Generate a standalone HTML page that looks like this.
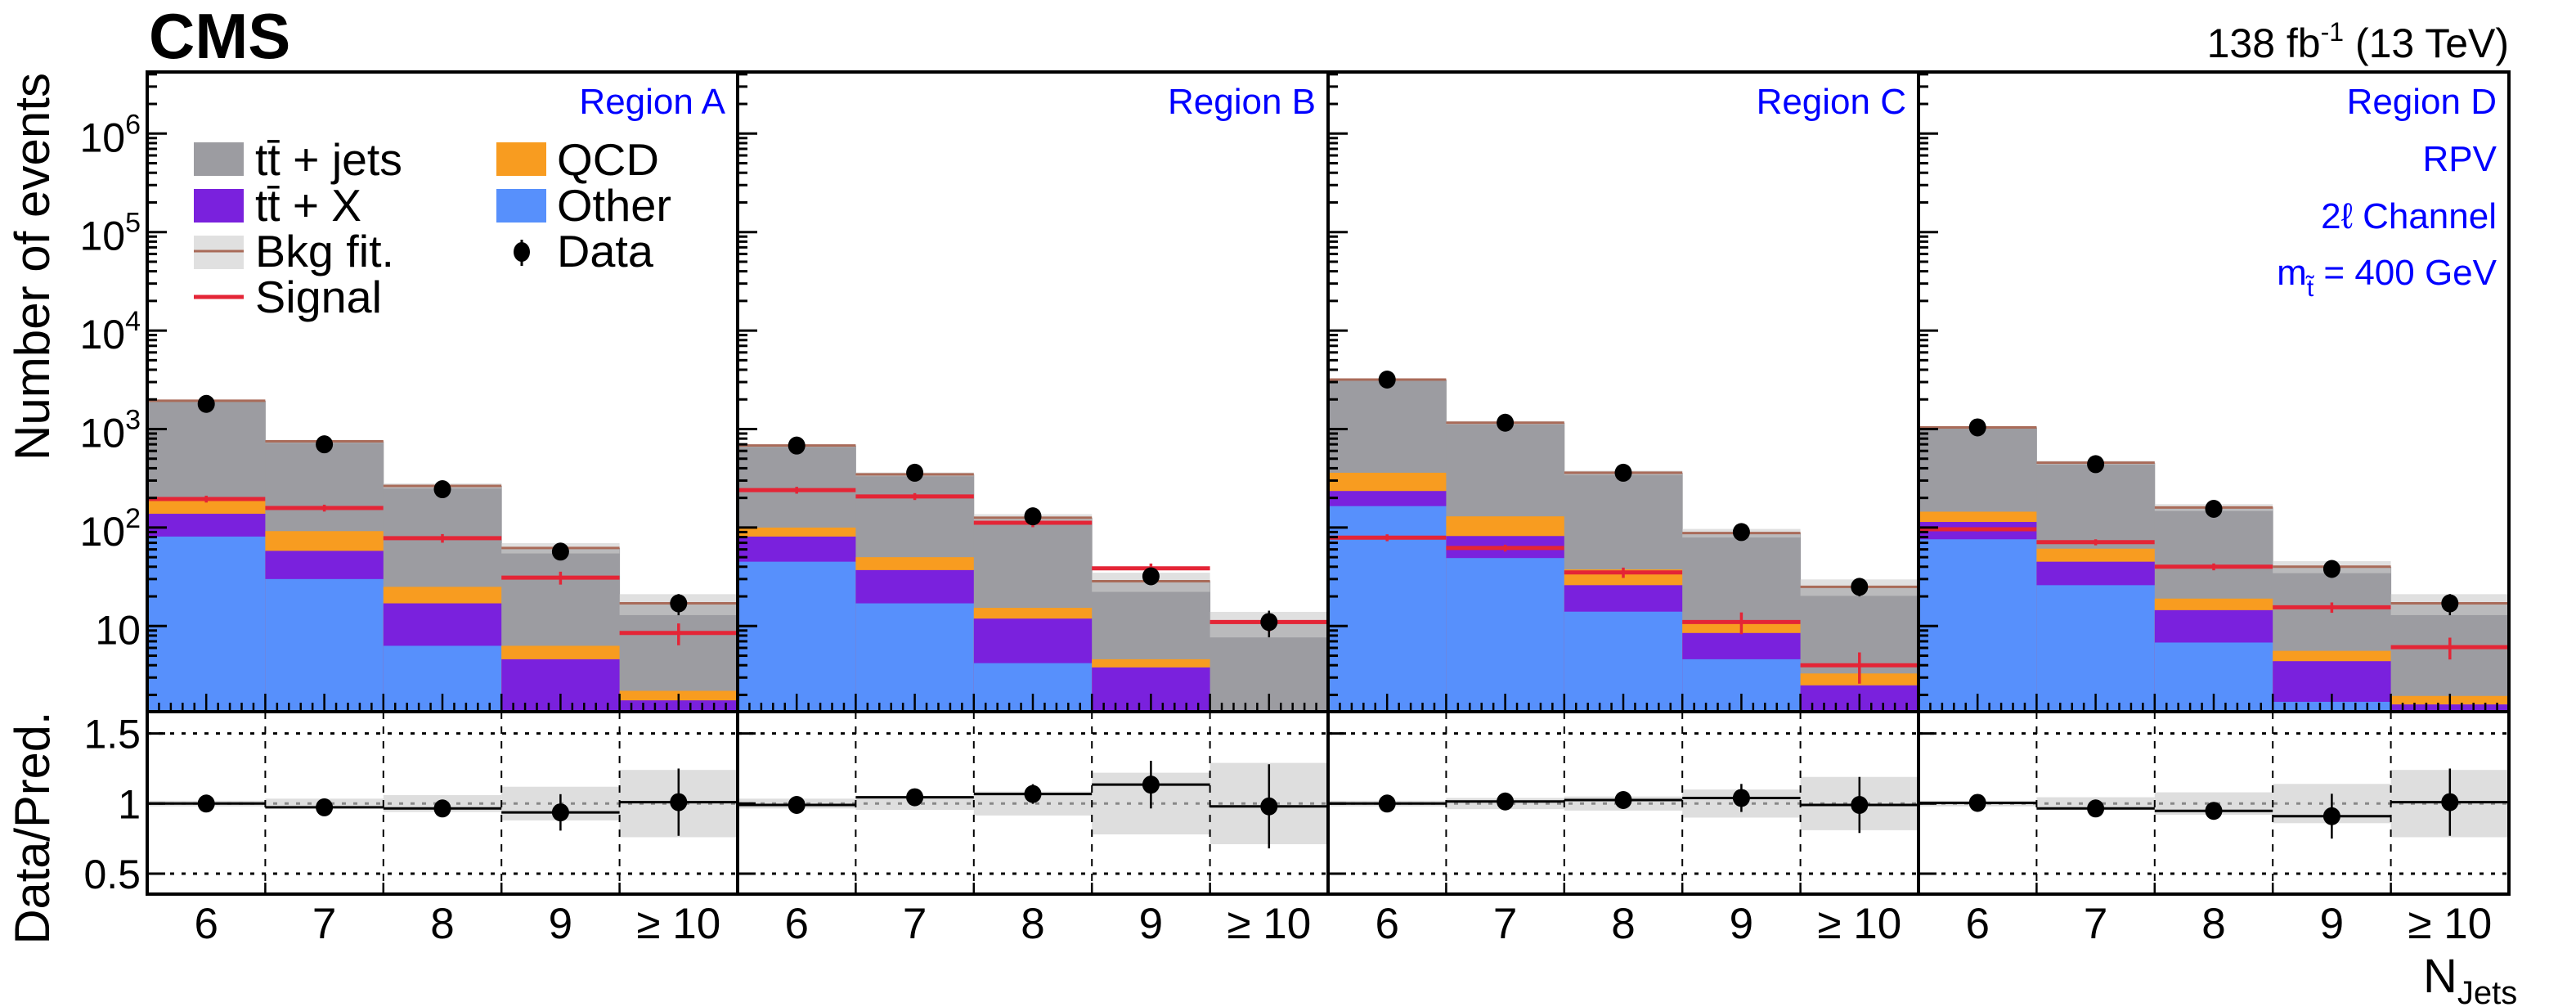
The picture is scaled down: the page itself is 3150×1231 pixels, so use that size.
<!DOCTYPE html>
<html><head><meta charset="utf-8"><style>
html,body{margin:0;padding:0;background:#fff;}
svg{display:block;font-family:"Liberation Sans",Arial,sans-serif;}
</style></head><body>
<svg id="chart" width="3150" height="1231" viewBox="0 0 3150 1231" xmlns="http://www.w3.org/2000/svg">
<g id="marks"></g>
<g id="frames"></g>
<text x="182" y="71" font-size="78" font-weight="bold">CMS</text>
<text x="3068" y="70" font-size="50" text-anchor="end">138 fb<tspan dy="-20" font-size="32">-1</tspan><tspan dy="20"> (13 TeV)</tspan></text>
<text transform="translate(60,326) rotate(-90)" font-size="60" text-anchor="middle" textLength="474" lengthAdjust="spacingAndGlyphs">Number of events</text>
<text transform="translate(60,1012) rotate(-90)" font-size="60" text-anchor="middle" textLength="285" lengthAdjust="spacingAndGlyphs">Data/Pred.</text>
<text x="2963" y="1213" font-size="58">N<tspan dy="14" font-size="40">Jets</tspan></text>
<g fill="#0000ff" font-size="44" text-anchor="end">
<text x="3053" y="209">RPV</text>
<text x="3053" y="279">2ℓ Channel</text>
<text x="3053" y="348">m<tspan dy="14" font-size="30">t̃</tspan><tspan dy="-14"> = 400 GeV</tspan></text>
</g>
<g font-size="55">
<g><rect x="237" y="174" width="61" height="41" fill="#9c9ca1"/><text x="312" y="214" textLength="180" lengthAdjust="spacingAndGlyphs">tt̄ + jets</text></g>
<g><rect x="237" y="231" width="61" height="41" fill="#7a21dd"/><text x="312" y="270" textLength="130" lengthAdjust="spacingAndGlyphs">tt̄ + X</text></g>
<g><rect x="237" y="288" width="61" height="41" fill="#e0e0e0"/><line x1="237" y1="307" x2="298" y2="307" stroke="#a96b59" stroke-width="3"/><text x="312" y="326" textLength="170" lengthAdjust="spacingAndGlyphs">Bkg fit.</text></g>
<g><line x1="237" y1="363" x2="298" y2="363" stroke="#e42536" stroke-width="5"/><text x="312" y="382" textLength="155" lengthAdjust="spacingAndGlyphs">Signal</text></g>
<g><rect x="607" y="174" width="61" height="41" fill="#f89c20"/><text x="681" y="214" textLength="125" lengthAdjust="spacingAndGlyphs">QCD</text></g>
<g><rect x="607" y="231" width="61" height="41" fill="#5790fc"/><text x="681" y="270" textLength="140" lengthAdjust="spacingAndGlyphs">Other</text></g>
<g><line x1="638" y1="293" x2="638" y2="325" stroke="#000" stroke-width="3"/><ellipse cx="638" cy="308" rx="10" ry="12" fill="#000"/><text x="681" y="326" textLength="118" lengthAdjust="spacingAndGlyphs">Data</text></g>
</g>
</svg>
<script>
// ---- data ----
const regions = ["Region A","Region B","Region C","Region D"];
const binLabels = ["6","7","8","9","\u2265 10"];
const mainTicks = [10,100,1000,10000,100000,1000000];
const mainTickLabels = ["10","10","10","10","10","10"];
const mainTickExps = ["","2","3","4","5","6"];
const ratioTicks = [0.5,1,1.5];
const ratioTickLabels = ["0.5","1","1.5"];
// stack cumulative tops: other, other+ttX, +QCD, total (tt+jets on top)
const otherA = [81,30,6.3,1.2,1.0];
const ttxTopA = [138,58,17,4.6,1.76];
const qcdTopA = [187,92,25,6.3,2.2];
const totalA = [1940,750,265,62,17];
const otherB = [45,17,4.2,1.0,0.5];
const ttxTopB = [81,37,11.9,3.8,1.0];
const qcdTopB = [100,50,15.3,4.6,1.1];
const totalB = [680,347,126,28.5,10.8];
const otherC = [165,49,14,4.6,1.0];
const ttxTopC = [235,82,26,8.5,2.5];
const qcdTopC = [360,130,37.6,10.9,3.3];
const totalC = [3180,1160,360,88,25];
const otherD = [76,26,6.8,1.7,1.0];
const ttxTopD = [114,45,14.5,4.4,1.6];
const qcdTopD = [145,61,19,5.6,1.95];
const totalD = [1040,455,160,40,17];
const signalA = [195,158,78,31,8.5];
const signalB = [240,207,112,38.5,11];
const signalC = [79,62,35,11,4];
const signalD = [96,71,40,15.5,6.1];
const sigErrA = [0.08,0.08,0.1,0.15,0.25];
const sigErrB = [0.08,0.08,0.1,0.12,0.2];
const sigErrC = [0.08,0.08,0.12,0.25,0.35];
const sigErrD = [0.05,0.07,0.08,0.12,0.25];
const dataA = [1800,700,245,57,17];
const dataB = [680,360,130,32,11];
const dataC = [3180,1160,360,90,25];
const dataD = [1040,440,155,38,17];
const ratioA = [1.0,0.973,0.965,0.937,1.01];
const ratioB = [0.99,1.045,1.068,1.135,0.98];
const ratioC = [1.0,1.015,1.025,1.04,0.99];
const ratioD = [1.005,0.965,0.948,0.91,1.01];
const ratioErrA = [0.02,0.03,0.05,0.13,0.24];
const ratioErrB = [0.03,0.05,0.07,0.17,0.30];
const ratioErrC = [0.02,0.03,0.05,0.10,0.20];
const ratioErrD = [0.02,0.03,0.06,0.16,0.24];
const bandA = [0.02,0.035,0.06,0.12,0.24];
const bandB = [0.035,0.045,0.085,0.22,0.29];
const bandC = [0.02,0.04,0.05,0.10,0.19];
const bandD = [0.02,0.045,0.08,0.14,0.24];

const other=[otherA,otherB,otherC,otherD], ttxTop=[ttxTopA,ttxTopB,ttxTopC,ttxTopD], qcdTop=[qcdTopA,qcdTopB,qcdTopC,qcdTopD], total=[totalA,totalB,totalC,totalD];
const signal=[signalA,signalB,signalC,signalD], sigErr=[sigErrA,sigErrB,sigErrC,sigErrD], dataV=[dataA,dataB,dataC,dataD];
const ratio=[ratioA,ratioB,ratioC,ratioD], ratioErr=[ratioErrA,ratioErrB,ratioErrC,ratioErrD], band=[bandA,bandB,bandC,bandD];

// ---- layout ----
const L=180, R=3068, PW=(R-L)/4, BW=PW/5;
const TOP=88, MB=870, RB=1093;
function xb(p,i){return L+p*PW+i*BW;}
function ym(v){let y=524.5-120.4*(Math.log10(v)-3);return Math.max(TOP,Math.min(MB,y));}
function yr(r){let y=982.3-(r-1)*171.4;return Math.max(MB,Math.min(RB,y));}
const NS="http://www.w3.org/2000/svg";
const marks=document.getElementById('marks'), frames=document.getElementById('frames');
function mk(tag,attrs,parent){const e=document.createElementNS(NS,tag);for(const k in attrs)e.setAttribute(k,attrs[k]);(parent||marks).appendChild(e);return e;}

for(let p=0;p<4;p++){
  const g=mk('g',{});
  
  
  for(let i=0;i<5;i++){
    const x0=xb(p,i), x1=xb(p,i+1);
    const layers=[[total[p][i],'#9c9ca1','ttjets'],[qcdTop[p][i],'#f89c20','qcd'],[ttxTop[p][i],'#7a21dd','ttx'],[other[p][i],'#5790fc','other']];
    for(const [v,c,n] of layers){
      const y=ym(v);
      const r=mk('rect',{x:x0,y:y,width:x1-x0+0.5,height:MB-y,fill:c},g);
      
      
    }
    // bkg fit band
    const bu=ym(total[p][i]*(1+band[p][i])), bd=ym(total[p][i]*(1-band[p][i]));
    const b=mk('rect',{x:x0,y:bu,width:x1-x0,height:bd-bu,fill:'rgb(205,205,205)','fill-opacity':0.62},g);
    
    
    const yt=ym(total[p][i]);
    const bl=mk('line',{x1:x0,x2:x1,y1:yt,y2:yt,stroke:'#a96b59','stroke-width':3},g);
    
    
    // signal
    const ys=ym(signal[p][i]), xc=(x0+x1)/2;
    const sl=mk('line',{x1:x0,x2:x1,y1:ys,y2:ys,stroke:'#e42536','stroke-width':5},g);
    
    
    mk('line',{x1:xc,x2:xc,y1:ym(signal[p][i]*(1+sigErr[p][i])),y2:ym(signal[p][i]*(1-sigErr[p][i])),stroke:'#e42536','stroke-width':3.5},g);
    // data
    const d=dataV[p][i], e=Math.sqrt(d);
    mk('line',{x1:xc,x2:xc,y1:ym(d+e),y2:ym(d-e),stroke:'#000','stroke-width':2.5},g);
    const dot=mk('ellipse',{cx:xc,cy:ym(d),rx:10.5,ry:11,fill:'#000'},g);
    
    
    // ratio
    const rb=mk('rect',{x:x0,y:yr(1+band[p][i]),width:x1-x0,height:yr(1-band[p][i])-yr(1+band[p][i]),fill:'#dedede'},g);
    
    
  }
  // ratio grid lines
  mk('line',{x1:xb(p,0),x2:xb(p,5),y1:yr(1),y2:yr(1),stroke:'#888','stroke-width':3,'stroke-dasharray':'5 9'},g);
  mk('line',{x1:xb(p,0),x2:xb(p,5),y1:yr(1.5),y2:yr(1.5),stroke:'#000','stroke-width':3,'stroke-dasharray':'5 9'},g);
  mk('line',{x1:xb(p,0),x2:xb(p,5),y1:yr(0.5),y2:yr(0.5),stroke:'#000','stroke-width':3,'stroke-dasharray':'5 9'},g);
  for(let i=1;i<5;i++) mk('line',{x1:xb(p,i),x2:xb(p,i),y1:MB,y2:RB,stroke:'#000','stroke-width':2,'stroke-dasharray':'9 9'},g);
  for(let i=0;i<5;i++){
    const x0=xb(p,i), x1=xb(p,i+1), xc=(x0+x1)/2, r=ratio[p][i];
    mk('line',{x1:x0,x2:x1,y1:yr(r),y2:yr(r),stroke:'#000','stroke-width':3},g);
    mk('line',{x1:xc,x2:xc,y1:yr(r+ratioErr[p][i]),y2:yr(r-ratioErr[p][i]),stroke:'#000','stroke-width':2.5},g);
    const rd=mk('ellipse',{cx:xc,cy:yr(r),rx:10.5,ry:11,fill:'#000'},g);
    
    
    const t=mk('text',{x:xc,y:1147,'font-size':53,'text-anchor':'middle'},frames);
    t.textContent=binLabels[i];
    
    
  }
  // region label
  const rl=mk('text',{x:xb(p,5)-15,y:139,'font-size':44,'text-anchor':'end',fill:'#0000ff'},frames);
  rl.textContent=regions[p];
  
  
  // y ticks
  const xl=xb(p,0);
  for(let dec=0;dec<=6;dec++){
    for(let m=1;m<10;m++){
      const v=m*Math.pow(10,dec); const y=ym(v);
      if(y<=TOP||y>=MB) continue;
      mk('line',{x1:xl,x2:xl+(m===1?24:12),y1:y,y2:y,stroke:'#000','stroke-width':3},frames);
    }
  }
  // x ticks main bottom
  for(let k=0;k<=50;k++){
    const x=xl+k*BW/10; const len=(k%5===0)?22:11;
    mk('line',{x1:x,x2:x,y1:MB,y2:MB-len,stroke:'#000','stroke-width':2.5},frames);
  }
  for(let k=0;k<=5;k++) mk('line',{x1:xb(p,k),x2:xb(p,k),y1:RB,y2:RB-14,stroke:'#000','stroke-width':2.5},frames);
  for(const t of ratioTicks) mk('line',{x1:xl,x2:xl+22,y1:yr(t),y2:yr(t),stroke:'#000','stroke-width':3},frames);
  // frames
  mk('rect',{x:xl,y:TOP,width:PW,height:MB-TOP,fill:'none',stroke:'#000','stroke-width':4},frames);
  mk('rect',{x:xl,y:MB,width:PW,height:RB-MB,fill:'none',stroke:'#000','stroke-width':4},frames);
}
// y tick labels
for(let k=0;k<mainTicks.length;k++){
  const y=ym(mainTicks[k]);
  const t=mk('text',{x:172,y:y+22,'font-size':50,'text-anchor':'end'},frames);
  
  
  if(mainTickExps[k]){t.innerHTML=mainTickLabels[k]+'<tspan dy="-22" font-size="34">'+mainTickExps[k]+'</tspan>';}
  else t.textContent=mainTickLabels[k];
}
for(let k=0;k<ratioTicks.length;k++){
  const t=mk('text',{x:172,y:yr(ratioTicks[k])+18,'font-size':50,'text-anchor':'end'},frames);
  t.textContent=ratioTickLabels[k];
  
  
}
</script>
</body></html>
